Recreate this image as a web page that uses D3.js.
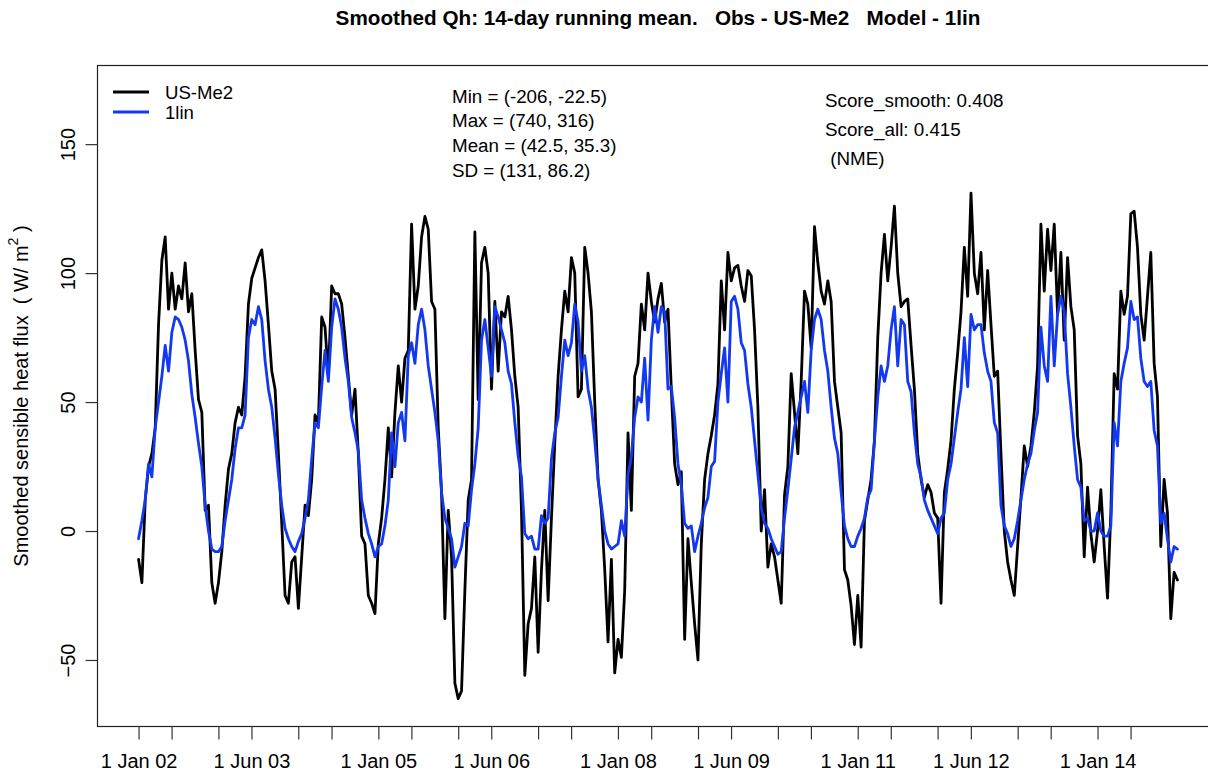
<!DOCTYPE html>
<html>
<head>
<meta charset="utf-8">
<script src="https://cdn.jsdelivr.net/npm/d3@7"></script>
<style>
  body { margin: 0; background: #fff; }
  svg { display: block; }
  text { font-family: "Liberation Sans", Arial, Helvetica, sans-serif; fill: #000; white-space: pre; }
</style>
</head>
<body>
<svg id="chart" width="1208" height="774"></svg>
<script>
// 14-day running mean of sensible heat flux (W/m2), sampled 24 times per year from 1 Jan 2002
const seriesStart = "2002-01-01";
const samplesPerYear = 24;

const obsQh = [
  -11, -20, 12, 25, 30, 40, 80, 105, 114, 86, 100, 86, 95, 90, 104, 85, 92, 70, 51, 46, 8, 10, -20, -28,
  -20, -8, 10, 24, 30, 42, 48, 45, 60, 88, 98, 102, 106, 109, 97, 80, 62, 55, 30, 3, -25, -28, -12, -10,
  -30, -10, 10, 6, 20, 45, 42, 83, 79, 60, 95, 92, 92, 88, 75, 60, 45, 55, 30, -2, -5, -25, -28, -32,
  -5, 5, 20, 40, 21, 46, 64, 50, 67, 70, 119, 86, 95, 114, 122, 117, 89, 86, 40, 15, -34, 8, -10, -59,
  -65, -62, -23, 12, 20, 116, 51, 104, 110, 100, 55, 89, 62, 85, 83, 91, 78, 60, 48, 8, -56, -36, -30, -10,
  -47, -15, 8, -27, 5, 34, 60, 78, 93, 85, 106, 100, 52, 55, 110, 100, 85, 50, 20, 8, -15, -43, -11, -55,
  -42, -49, -23, 38, 8, 60, 65, 88, 78, 100, 89, 81, 90, 96, 81, 86, 55, 26, 18, 23, -42, -3, -20, -36,
  -50, -5, 20, 30, 37, 45, 57, 97, 78, 108, 97, 102, 103, 95, 89, 101, 99, 78, 48, 0, 16, -14, -5, -10,
  -19, -28, 14, 25, 61, 46, 30, 58, 93, 88, 71, 118, 104, 93, 88, 97, 89, 58, 48, 38, -15, -19, -29, -44,
  -25, -45, 4, 12, 20, 35, 75, 100, 115, 97, 110, 126, 100, 87, 89, 90, 72, 55, 30, 20, 13, 18, 15, 7,
  5, -28, 15, 24, 35, 55, 69, 85, 110, 91, 131, 100, 92, 108, 78, 101, 80, 60, 62, 30, 0, -12, -19, -25,
  -6, 13, 33, 25, 33, 46, 64, 119, 93, 117, 101, 119, 84, 108, 74, 106, 87, 78, 37, 26, -10, 17, -1, -12,
  0, 16, -6, -26, 7, 61, 55, 93, 84, 91, 123, 124, 110, 84, 74, 91, 108, 65, 52, -6, 20, 7, -34, -16, -19
];

const modelQh = [
  -3, 4, 12, 26, 21, 40, 50, 60, 72, 62, 77, 83, 82, 79, 74, 66, 53, 44, 34, 25, 10, 0, -7, -8,
  -8, -6, 4, 12, 20, 32, 40, 40, 45, 75, 82, 80, 87, 82, 66, 55, 48, 36, 22, 10, 1, -3, -6, -8,
  -4, -1, 5, 12, 28, 42, 40, 56, 70, 58, 79, 90, 86, 79, 67, 58, 44, 38, 31, 12, 5, -1, -5, -10,
  -6, -5, 2, 12, 38, 25, 42, 46, 35, 68, 73, 65, 80, 86, 78, 64, 55, 46, 35, 15, 5, 1, -3, -14,
  -10, -6, 3, 2, 16, 26, 40, 74, 82, 71, 60, 87, 83, 78, 73, 62, 57, 42, 29, 21, -1, -3, -2, -7,
  -7, 6, 3, 5, 28, 38, 44, 60, 74, 68, 73, 88, 81, 62, 68, 55, 48, 35, 20, 10, 0, -5, -7, -6,
  -5, 4, -2, 22, 29, 44, 52, 50, 67, 43, 74, 87, 77, 87, 85, 55, 56, 44, 26, 18, 3, 1, 2, -8,
  -2, 3, 9, 13, 25, 27, 50, 61, 71, 50, 89, 91, 86, 73, 70, 57, 48, 35, 22, 9, 3, 1, -3, -6,
  -9, -8, 5, 16, 28, 40, 46, 52, 58, 46, 70, 82, 86, 82, 70, 62, 48, 36, 30, 15, 2, -3, -6, -6,
  -2, 1, 5, 13, 16, 35, 52, 64, 58, 64, 78, 87, 64, 82, 80, 58, 54, 38, 26, 21, 12, 8, 5, 2,
  -1, 5, 7, 20, 26, 36, 46, 55, 75, 56, 84, 78, 80, 80, 69, 62, 58, 42, 38, 10, 2, -1, -6, -3,
  4, 12, 20, 26, 30, 39, 46, 79, 64, 58, 91, 64, 84, 91, 85, 61, 48, 33, 20, 17, 4, 5, 0, 0,
  7, 0, -2, -2, 2, 42, 33, 58, 65, 71, 89, 82, 83, 67, 58, 56, 58, 39, 33, 3, 7, -3, -12, -6, -7
];

const seriesNames = ["US-Me2", "1lin"];
const seriesColors = ["#000000", "#1238f0"];

// x ticks every 1 Jan and 1 Jun; only some carry labels
const tickDates = [
  "2002-01-01","2002-06-01","2003-01-01","2003-06-01","2004-01-01","2004-06-01",
  "2005-01-01","2005-06-01","2006-01-01","2006-06-01","2007-01-01","2007-06-01",
  "2008-01-01","2008-06-01","2009-01-01","2009-06-01","2010-01-01","2010-06-01",
  "2011-01-01","2011-06-01","2012-01-01","2012-06-01","2013-01-01","2013-06-01",
  "2014-01-01","2014-06-01"
];
const labelDates = ["2002-01-01","2003-06-01","2005-01-01","2006-06-01","2008-01-01",
                    "2009-06-01","2011-01-01","2012-06-01","2014-01-01"];
const labelTexts = ["1 Jan 02","1 Jun 03","1 Jan 05","1 Jun 06","1 Jan 08",
                    "1 Jun 09","1 Jan 11","1 Jun 12","1 Jan 14"];

const yTicks = [-50, 0, 50, 100, 150];
const yLimits = [-66.3, 171];

const titleText = "Smoothed Qh: 14-day running mean.   Obs - US-Me2   Model - 1lin";
const statsLines = ["Min = (-206, -22.5)", "Max = (740, 316)", "Mean = (42.5, 35.3)", "SD = (131, 86.2)"];
const scoreLines = ["Score_smooth: 0.408", "Score_all: 0.415", " (NME)"];

const parse = d3.utcParse("%Y-%m-%d");
const t0 = parse(seriesStart);
const dayMs = 86400000;
const stepMs = 365.25 / samplesPerYear * dayMs;
const dateAt = i => new Date(t0.getTime() + i * stepMs);

const svg = d3.select("#chart");
const plot = { left: 97, right: 1219, top: 65.5, bottom: 726.5 };

// R-style 4% padding around the data range
const tFirst = dateAt(0), tLast = dateAt(obsQh.length - 1);
const tPad = (tLast - tFirst) * 0.04;
const x = d3.scaleUtc()
  .domain([new Date(tFirst.getTime() - tPad), new Date(tLast.getTime() + tPad)])
  .range([plot.left, plot.right]);
const yPad = (yLimits[1] - yLimits[0]) * 0.04;
const y = d3.scaleLinear()
  .domain([yLimits[0] - yPad, yLimits[1] + yPad])
  .range([plot.bottom, plot.top]);

// clip lines to the plotting region
svg.append("defs").append("clipPath").attr("id", "plotclip")
  .append("rect").attr("x", plot.left).attr("y", plot.top)
  .attr("width", plot.right - plot.left).attr("height", plot.bottom - plot.top);

const line = d3.line()
  .x((d, i) => x(dateAt(i)))
  .y(d => y(d))
  .curve(d3.curveLinear);

const lines = svg.append("g").attr("clip-path", "url(#plotclip)");
[obsQh, modelQh].forEach((vals, k) => {
  lines.append("path")
    .datum(vals)
    .attr("d", line)
    .attr("fill", "none")
    .attr("stroke", seriesColors[k])
    .attr("stroke-width", 2.8)
    .attr("stroke-linejoin", "round")
    .attr("stroke-linecap", "round");
});

// frame
svg.append("rect")
  .attr("x", plot.left + 0.5).attr("y", plot.top)
  .attr("width", plot.right - plot.left).attr("height", plot.bottom - plot.top)
  .attr("fill", "none").attr("stroke", "#222").attr("stroke-width", 1.2);

// x axis
const labelMap = new Map(labelDates.map((d, i) => [d, labelTexts[i]]));
const fmt = d3.utcFormat("%Y-%m-%d");
const xAxis = d3.axisBottom(x)
  .tickValues(tickDates.map(parse))
  .tickSize(13)
  .tickPadding(14)
  .tickFormat(d => labelMap.get(fmt(d)) || "");
const gx = svg.append("g")
  .attr("transform", `translate(0,${plot.bottom})`)
  .call(xAxis);
gx.select(".domain").remove();
gx.selectAll(".tick line").attr("stroke", "#333").attr("stroke-width", 1.2);
gx.selectAll(".tick text").attr("font-size", 20).attr("fill", "#000")
  .attr("font-family", "Liberation Sans, Arial, sans-serif");

// y axis with vertical labels
const yAxis = d3.axisLeft(y).tickValues(yTicks).tickSize(12).tickFormat(d3.format("d"));
const gy = svg.append("g").attr("transform", `translate(${plot.left + 0.5},0)`).call(yAxis);
gy.select(".domain").remove();
gy.selectAll(".tick line").attr("stroke", "#333").attr("stroke-width", 1.2);
gy.selectAll(".tick text")
  .attr("font-size", 20).attr("fill", "#000")
  .attr("font-family", "Liberation Sans, Arial, sans-serif")
  .attr("x", null).attr("dy", null)
  .attr("text-anchor", "middle")
  .attr("transform", "translate(-30,0) rotate(-90)")
  .attr("dominant-baseline", "central");

// axis title
const yl = svg.append("text")
  .attr("transform", `translate(21,${(plot.top + plot.bottom) / 2}) rotate(-90)`)
  .attr("text-anchor", "middle")
  .attr("dominant-baseline", "central")
  .attr("font-size", 20);
yl.append("tspan").text("Smoothed sensible heat flux  ( W/ m");
yl.append("tspan").attr("font-size", 14).attr("dy", -8).text("2");
yl.append("tspan").attr("dy", 8).text(" )");

// title
svg.append("text")
  .attr("x", (plot.left + plot.right) / 2).attr("y", 25)
  .attr("text-anchor", "middle")
  .attr("font-weight", "bold")
  .attr("font-size", 20.7)
  .text(titleText);

// legend
const legend = svg.append("g");
seriesNames.forEach((name, i) => {
  const ly = 92 + i * 20;
  legend.append("line").attr("x1", 113).attr("x2", 149).attr("y1", ly).attr("y2", ly)
    .attr("stroke", seriesColors[i]).attr("stroke-width", 2.8);
  legend.append("text").attr("x", 165).attr("y", ly).attr("dominant-baseline", "central")
    .attr("font-size", 18.6).text(name);
});

// summary statistics
statsLines.forEach((s, i) => {
  svg.append("text").attr("x", 452).attr("y", 96 + i * 24.7)
    .attr("dominant-baseline", "central").attr("font-size", 18.8).text(s);
});
scoreLines.forEach((s, i) => {
  svg.append("text").attr("x", 825).attr("y", 100 + i * 29)
    .attr("dominant-baseline", "central").attr("font-size", 18.8).text(s);
});
</script>
</body>
</html>
